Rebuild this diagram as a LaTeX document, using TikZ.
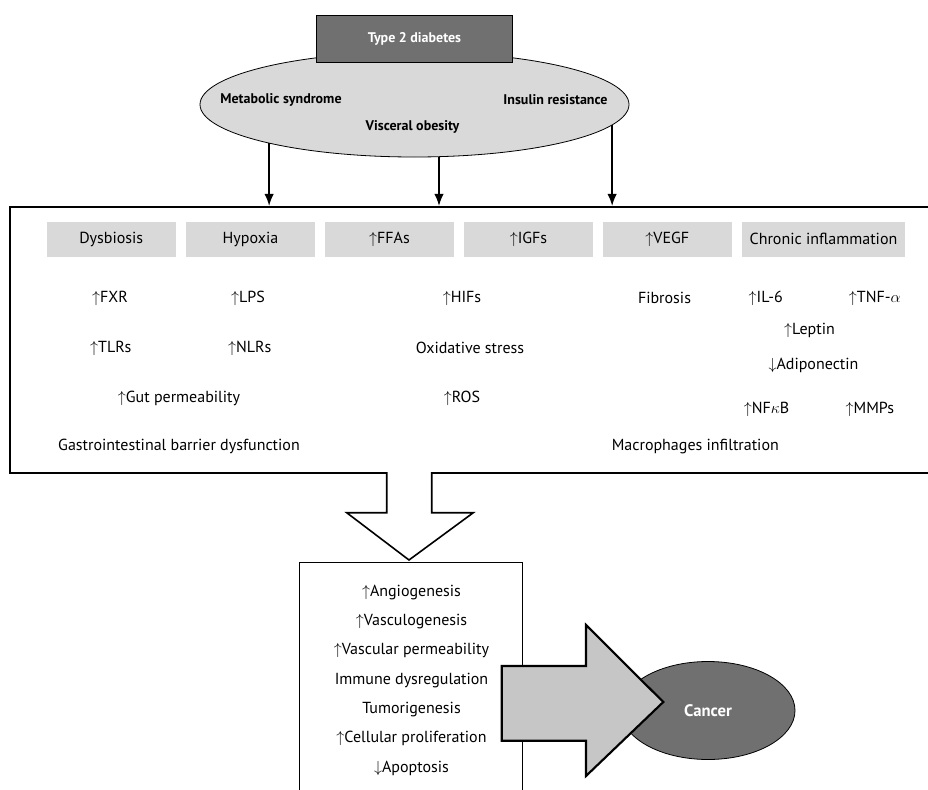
\documentclass[tikz,border=0pt]{standalone}
\usepackage{fontspec}
\setmainfont{PT Sans}
\usetikzlibrary{arrows.meta, shapes.geometric}

\definecolor{t2gray}{HTML}{707070}
\definecolor{elgray}{HTML}{D9D9D9}
\definecolor{hdrgray}{HTML}{D9D9D9}
\definecolor{arrgray}{HTML}{C6C6C6}

\begin{document}
\begin{tikzpicture}[x=0.75pt, y=-0.75pt,
	every node/.style={font=\fontsize{12}{14}\selectfont},
	bold/.style={font=\fontsize{10.5}{12}\selectfont\bfseries},
	hdr/.style={fill=hdrgray, minimum width=96.75pt, minimum height=26.25pt, inner sep=0pt},
	arr/.style={-{Latex[length=9pt, width=7pt]}, line width=1.1pt}]
	%\draw[help lines] (0,0) grid (928,789);
	\useasboundingbox (0,0) rectangle (928,789);
	\clip (0,0) rectangle (928,789);

	\node [ellipse, draw, fill=elgray, line width=0.6pt, minimum width=321.75pt, minimum height=78.75pt] (syn) at (414.5,104.5) {};	% Ellipse oben
	\node [bold, draw, fill=t2gray, text=white, line width=0.6pt, minimum width=146.7pt, minimum height=35.8pt] (t2d) at (414.5,38.8) {Type 2 diabetes};
	\node [bold] (metab) at (281,100) {Metabolic syndrome};
	\node [bold] (visc) at (412.5,127) {Visceral obesity};
	\node [bold] (insul) at (555.5,100) {Insulin resistance};

	\node [draw, line width=1.6pt, minimum width=697.5pt, minimum height=199.5pt] (mech) at (475,340) {};	% grosser Kasten

	\draw [arr] (syn.195.2) -- (syn.195.2 |- mech.north);
	\draw [arr] (syn.295.1) -- (syn.295.1 |- mech.north);
	\draw [arr] (syn.354.7) -- (syn.354.7 |- mech.north);

	\node [hdr] (dysb) at (111.3,239.2) {Dysbiosis};			% graue Kaesten
	\node [hdr] (hypox) at (250.5,239.2) {Hypoxia};
	\node [hdr] (ffa) at (389.5,239.2) {$\uparrow$FFAs};
	\node [hdr] (igf) at (528.5,239.2) {$\uparrow$IGFs};
	\node [hdr] (vegf) at (667.3,239.2) {$\uparrow$VEGF};
	\node [hdr, minimum width=121.8pt] (chron) at (823.5,239.2) {Chronic inflammation};

	\node (fxr) at (110,298) {$\uparrow$FXR};
	\node (lps) at (248,298) {$\uparrow$LPS};
	\node (hif) at (462,298) {$\uparrow$HIFs};
	\node (fibr) at (664.5,298) {Fibrosis};
	\node (il6) at (765.7,298) {$\uparrow$IL-6};
	\node (tnf) at (874.8,298) {$\uparrow$TNF-$\alpha$};
	\node (lept) at (809.5,330.7) {$\uparrow$Leptin};
	\node (tlr) at (110.8,348) {$\uparrow$TLRs};
	\node (nlr) at (249.7,348) {$\uparrow$NLRs};
	\node (oxid) at (470,348) {Oxidative stress};
	\node (adipo) at (813.5,365) {$\downarrow$Adiponectin};
	\node (gut) at (179,398) {$\uparrow$Gut permeability};
	\node (ros) at (462,398) {$\uparrow$ROS};
	\node (nfkb) at (766.5,409.3) {$\uparrow$NF$\kappa$B};
	\node (mmp) at (869.8,409.3) {$\uparrow$MMPs};
	\node (gibd) at (179,446.7) {Gastrointestinal barrier dysfunction};
	\node (macro) at (695.3,446.7) {Macrophages infiltration};

	% hohler Pfeil nach unten
	\draw [line width=1.2pt, fill=white] (386.7,472) -- (386.7,512.7) -- (346.7,512.7) -- (409,560) -- (473.3,512.7) -- (431.7,512.7) -- (431.7,472);

	\node [draw, line width=0.6pt, minimum width=167.55pt, minimum height=195pt] (res) at (411,692.3) {};	% unterer Kasten
	\node [align=center, font=\fontsize{12}{22}\selectfont] (reslist) at (411.5,680) {$\uparrow$Angiogenesis\\ $\uparrow$Vasculogenesis\\ $\uparrow$Vascular permeability\\ Immune dysregulation\\ Tumorigenesis\\ $\uparrow$Cellular proliferation\\ $\downarrow$Apoptosis};

	\node [bold, font=\fontsize{12.5}{14}\selectfont\bfseries, ellipse, draw, fill=t2gray, text=white, line width=0.6pt, minimum width=130.5pt, minimum height=73.5pt] (cancer) at (708,710.5) {Cancer};

	% grosser grauer Pfeil
	\draw [line width=1.6pt, fill=arrgray] (501.7,666) -- (586,666) -- (586,625) -- (663.3,702) -- (586,776) -- (586,740.7) -- (501.7,740.7) -- cycle;

\end{tikzpicture}
\end{document}
